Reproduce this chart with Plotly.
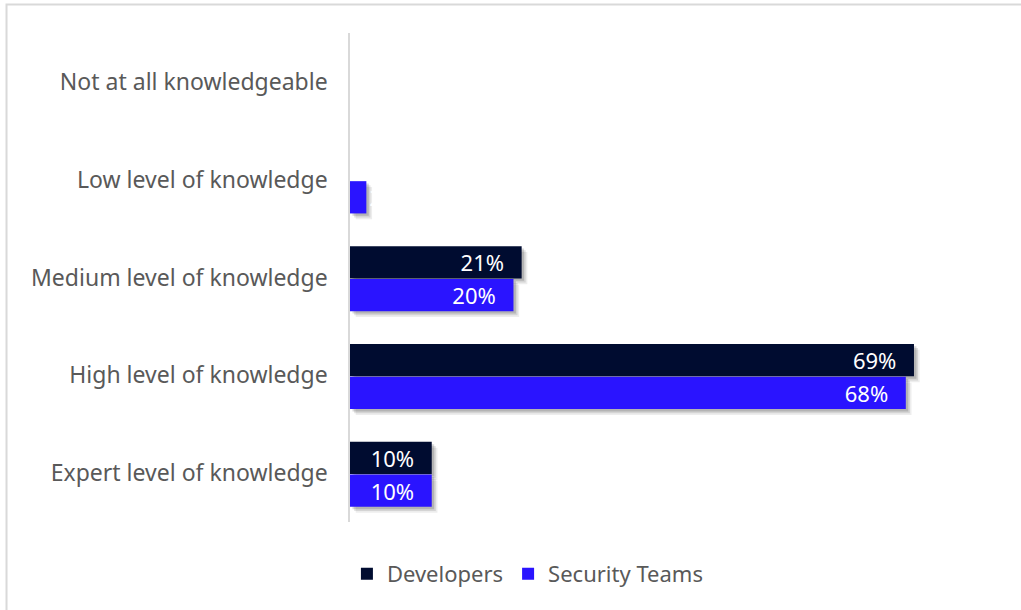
import plotly.graph_objects as go

categories = [
    "Not at all knowledgeable",
    "Low level of knowledge",
    "Medium level of knowledge",
    "High level of knowledge",
    "Expert level of knowledge",
]
developers = [0, 0, 21, 69, 10]
security_teams = [0, 2, 20, 68, 10]

DEV_COLOR = "#000c30"
SEC_COLOR = "#2a14ff"
TEXT_GREY = "#595959"
FONT = "Noto Sans"

BAR_W = 0.33
DEV_OFF = -0.32
SEC_OFF = 0.015
PAD = "\u2002\u2009"  # breathing room between label and bar end


def labels(vals):
    return [f"{v}%{PAD}" if v > 0 else "" for v in vals]


fig = go.Figure()

# soft drop shadows: stacked translucent copies nudged right/down
for dx, dy, alpha in [(0.7, 0.06, 0.07), (0.5, 0.042, 0.10), (0.3, 0.024, 0.15)]:
    for vals, off in [(developers, DEV_OFF), (security_teams, SEC_OFF)]:
        fig.add_trace(go.Bar(
            y=categories, x=vals, base=[dx if v > 0 else 0 for v in vals],
            orientation="h", width=BAR_W, offset=off + dy,
            marker=dict(color=f"rgba(0,0,0,{alpha})", line=dict(width=0)),
            showlegend=False, hoverinfo="skip",
        ))

sec_pos = ["outside" if 0 < v < 5 else "inside" for v in security_teams]

fig.add_trace(go.Bar(
    name="Developers", y=categories, x=developers, orientation="h",
    width=BAR_W, offset=DEV_OFF,
    marker=dict(color=DEV_COLOR, line=dict(width=0)),
    text=labels(developers), textposition="inside", insidetextanchor="end",
    textfont=dict(family=FONT, size=22, color="white"), constraintext="none",
))
fig.add_trace(go.Bar(
    name="Security Teams", y=categories, x=security_teams, orientation="h",
    width=BAR_W, offset=SEC_OFF,
    marker=dict(color=SEC_COLOR, line=dict(width=0)),
    text=labels(security_teams), textposition=sec_pos, insidetextanchor="end",
    textfont=dict(family=FONT, size=22, color="white"), constraintext="none",
    cliponaxis=False,
))

# light frame around the chart
fig.add_shape(type="rect", xref="paper", yref="paper",
              x0=-0.5367, x1=1.2, y0=-0.4, y1=1.0583,
              line=dict(color="#d9d9d9", width=2), layer="below")

fig.update_layout(
    width=1021, height=610,
    margin=dict(l=350, r=31, t=33, b=88),
    barmode="overlay",
    paper_bgcolor="white", plot_bgcolor="white",
    font=dict(family=FONT, color=TEXT_GREY, size=22),
    xaxis=dict(range=[0, 78.3], visible=False, showgrid=False, zeroline=False),
    yaxis=dict(autorange="reversed", showgrid=False, zeroline=False,
               showline=True, linecolor="#d9d9d9", linewidth=1.5,
               ticks="", ticklabelstandoff=16,
               tickfont=dict(family=FONT, size=23, color=TEXT_GREY)),
    legend=dict(orientation="h", x=0.278, xanchor="center", y=-0.106,
                yanchor="middle", font=dict(family=FONT, size=22, color=TEXT_GREY),
                itemwidth=30, traceorder="normal"),
    showlegend=True,
)

fig.write_html("out.html")
